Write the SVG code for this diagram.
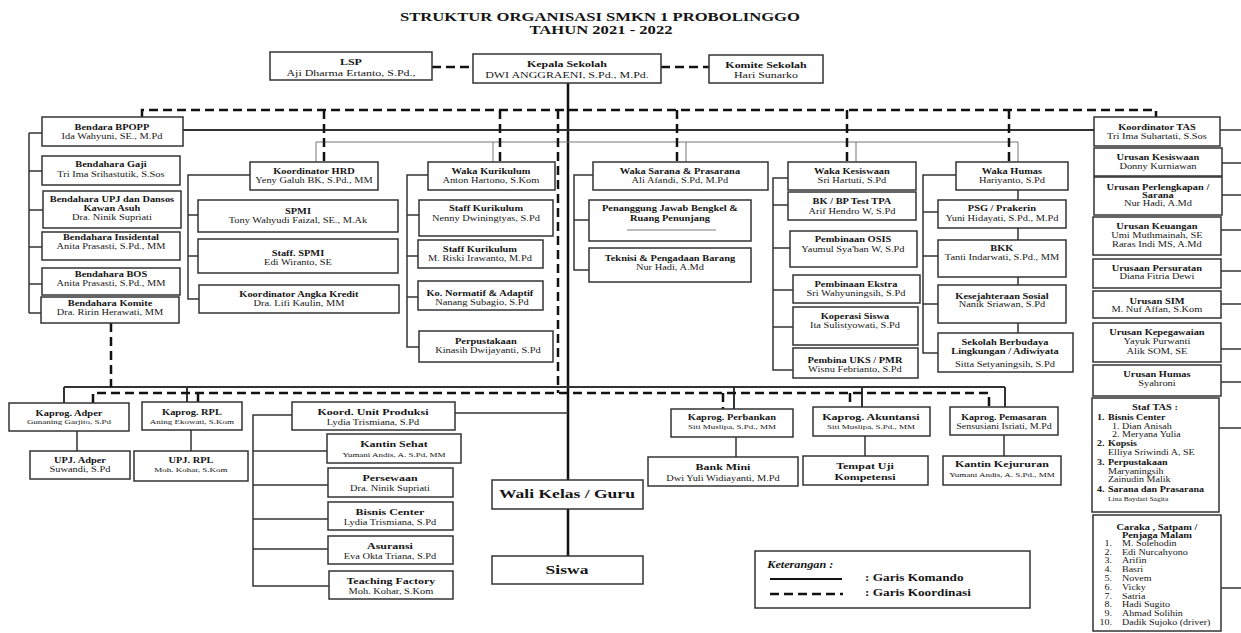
<svg xmlns="http://www.w3.org/2000/svg" width="1241" height="633" viewBox="0 0 1241 633">
<style>
.b{fill:#fff;stroke:#333;stroke-width:1.5}
text{font-family:"Liberation Serif","Times New Roman",serif;fill:#151515;text-anchor:middle;font-size:8px;transform-box:fill-box;transform-origin:center;transform:scaleX(1.3)}
.ti{transform:none}
.h{font-weight:bold}
.T{font-size:9.2px}
.H{font-weight:bold;font-size:9.2px}
.s{font-size:6.9px}
.L{text-anchor:start;font-size:7.7px;transform-origin:left center}
.R{text-anchor:end;font-size:7.7px;transform-origin:right center}
.ln{stroke:#333;stroke-width:1.5;fill:none}
.thin{stroke:#777;stroke-width:1;fill:none}
.main{stroke:#111;stroke-width:2.5;fill:none}
.dash{stroke:#111;stroke-width:2.5;stroke-dasharray:9 5;fill:none}
</style>
<rect width="1241" height="633" fill="#fff"/>
<g id="title">
<text x="600" y="21" class="h ti" style="font-size:12.5px" textLength="400" lengthAdjust="spacingAndGlyphs">STRUKTUR ORGANISASI SMKN 1 PROBOLINGGO</text>
<text x="601" y="33.5" class="h ti" style="font-size:12.5px" textLength="143" lengthAdjust="spacingAndGlyphs">TAHUN 2021 - 2022</text>
</g>
<g id="connectors">
<path class="main" d="M568,83 V480 M568,509 V556"/>
<path class="ln" style="stroke-width:2" d="M183,130 H1094"/>
<path class="thin" d="M316,142 H1018 M316,142 V162 M493,142 V162 M686,142 V162 M856,142 V162 M1018,142 V162"/>
<path class="ln" d="M29,133 V313 M29,133 H42 M29,171 H42 M29,210 H43 M29,247 H42 M29,284 H42 M29,313 H41"/>
<path class="ln" d="M250,175 H188 V299 H199 M188,215 H198 M188,256 H198"/>
<path class="ln" d="M428,175 H407 V347 H419 M407,215 H419 M407,256 H418 M407,297 H418"/>
<path class="ln" d="M593,175 H574 V270 H589 M574,220 H589"/>
<path class="ln" d="M788,178 H773 V370 H793 M773,205 H788 M773,248 H790 M773,290 H793 M773,327 H793"/>
<path class="ln" d="M956,175 H923 V353 H938 M923,212 H938 M923,256 H938 M923,304 H938 M1018,190 V200 M1018,228 V240 M1018,277 V285 M1018,323 V333"/>
<path class="ln" d="M1220,130 H1241 M1222,163 H1241 M1222,195 H1241 M1221,230 H1241 M1221,271 H1241 M1221,304 H1241 M1221,349 H1241 M1221,382 H1241 M1219,428 H1241 M1221,588 H1241"/>
<path class="ln" style="stroke-width:2" d="M64,387 H1005 M64,387 V403 M187,387 V402 M734,387 V409 M862,387 V407 M1005,387 V407"/>
<path class="ln" d="M77,431 V451 M191,430 V451 M736,437 V457 M865,436 V456 M1004,435 V456"/>
<path class="ln" d="M455,413 H568 M292,415 H253 V586 H329 M253,451 H327 M253,485 H328 M253,519 H328 M253,549 H328"/>
<path class="dash" d="M142,117 V110 H1156 V117 M324,110 V162 M500,110 V162 M558,110 V393 M677,110 V162 M847,110 V162 M1009,110 V162"/>
<path class="dash" d="M432,67 H473 M661,67 H709 M111,323 V387"/>
<path class="dash" d="M93,403 V393 H989 V407 M198,393 V402 M723,393 V409 M850,393 V407"/>
</g>
<g id="lsp"><rect class="b" x="270" y="52" width="162" height="28"/><text x="351" y="65.5" class="H">LSP</text><text x="351" y="76" class="T">Aji Dharma Ertanto, S.Pd.,</text></g>
<g id="kepala"><rect class="b" x="473" y="54" width="188" height="29"/><text x="567" y="67.5" class="H">Kepala Sekolah</text><text x="567" y="78" class="T">DWI ANGGRAENI, S.Pd., M.Pd.</text></g>
<g id="komite"><rect class="b" x="709" y="55" width="114" height="28"/><text x="766" y="68.5" class="H">Komite Sekolah</text><text x="766" y="78.5" class="T">Hari Sunarko</text></g>

<g id="bpopp"><rect class="b" x="42" y="117" width="141" height="29"/><text x="112" y="130" class="h">Bendara BPOPP</text><text x="112" y="139.5">Ida Wahyuni, SE., M.Pd</text></g>
<g id="gaji"><rect class="b" x="42" y="156" width="138" height="29"/><text x="111" y="167" class="h">Bendahara Gaji</text><text x="111" y="177">Tri Ima Srihastutik, S.Sos</text></g>
<g id="upj-dansos"><rect class="b" x="43" y="191" width="138" height="37"/><text x="112" y="202" class="h">Bendahara UPJ dan Dansos</text><text x="112" y="211" class="h">Kawan Asuh</text><text x="112" y="220.5">Dra. Ninik Supriati</text></g>
<g id="insidental"><rect class="b" x="42" y="232" width="138" height="28"/><text x="111" y="240" class="h">Bendahara Insidental</text><text x="111" y="249.5">Anita Prasasti, S.Pd., MM</text></g>
<g id="bos"><rect class="b" x="42" y="268" width="138" height="27"/><text x="111" y="277" class="h">Bendahara BOS</text><text x="111" y="286.5">Anita Prasasti, S.Pd., MM</text></g>
<g id="bkomite"><rect class="b" x="41" y="297" width="138" height="26"/><text x="110" y="306" class="h">Bendahara Komite</text><text x="110" y="315.5">Dra. Ririn Herawati, MM</text></g>

<g id="hrd"><rect class="b" x="250" y="162" width="128" height="28"/><text x="314" y="174" class="h">Koordinator HRD</text><text x="314" y="183.5">Yeny Galuh BK, S.Pd., MM</text></g>
<g id="spmi"><rect class="b" x="198" y="200" width="200" height="32"/><text x="298" y="214" class="h">SPMI</text><text x="298" y="223.5">Tony Wahyudi Faizal, SE., M.Ak</text></g>
<g id="staff-spmi"><rect class="b" x="198" y="239" width="200" height="34"/><text x="298" y="256" class="h">Staff. SPMI</text><text x="298" y="265.5">Edi Wiranto, SE</text></g>
<g id="angka-kredit"><rect class="b" x="199" y="285" width="200" height="28"/><text x="299" y="297" class="h">Koordinator Angka Kredit</text><text x="299" y="306.5">Dra. Lifi Kaulin, MM</text></g>

<g id="kurikulum"><rect class="b" x="428" y="162" width="127" height="28"/><text x="491" y="174" class="h">Waka Kurikulum</text><text x="491" y="183.5">Anton Hartono, S.Kom</text></g>
<g id="staff-kur1"><rect class="b" x="419" y="200" width="134" height="36"/><text x="486" y="211" class="h">Staff Kurikulum</text><text x="486" y="221.5">Nenny Dwiningtyas, S.Pd</text></g>
<g id="staff-kur2"><rect class="b" x="418" y="240" width="125" height="28"/><text x="480" y="252" class="h">Staff Kurikulum</text><text x="480" y="261.5">M. Riski Irawanto, M.Pd</text></g>
<g id="normatif"><rect class="b" x="418" y="281" width="125" height="29"/><text x="480" y="296" class="h">Ko. Normatif &amp; Adaptif</text><text x="482" y="305.5">Nanang Subagio, S.Pd</text></g>
<g id="perpustakaan"><rect class="b" x="419" y="331" width="134" height="31"/><text x="486" y="344" class="h">Perpustakaan</text><text x="488" y="353.5">Kinasih Dwijayanti, S.Pd</text></g>

<g id="sarana"><rect class="b" x="593" y="162" width="175" height="28"/><text x="680" y="174" class="h">Waka Sarana &amp; Prasarana</text><text x="680" y="183.5">Ali Afandi, S.Pd, M.Pd</text></g>
<g id="bengkel"><rect class="b" x="589" y="200" width="162" height="41"/><text x="670" y="211" class="h">Penanggung Jawab Bengkel &amp;</text><text x="670" y="221" class="h">Ruang Penunjang</text><path d="M627,230 H716" stroke="#555" stroke-width="0.8"/></g>
<g id="teknisi"><rect class="b" x="589" y="248" width="162" height="34"/><text x="670" y="261" class="h">Teknisi &amp; Pengadaan Barang</text><text x="670" y="270.5">Nur Hadi, A.Md</text></g>

<g id="kesiswaan"><rect class="b" x="788" y="162" width="128" height="28"/><text x="852" y="174" class="h">Waka Kesiswaan</text><text x="852" y="183.5">Sri Hartuti, S.Pd</text></g>
<g id="bk"><rect class="b" x="788" y="192" width="128" height="28"/><text x="852" y="204" class="h">BK / BP Test TPA</text><text x="852" y="214">Arif Hendro W, S.Pd</text></g>
<g id="osis"><rect class="b" x="790" y="231" width="127" height="36"/><text x="853" y="242" class="h">Pembinaan OSIS</text><text x="853" y="252">Yaumul Sya'ban W, S.Pd</text></g>
<g id="ekstra"><rect class="b" x="793" y="275" width="127" height="28"/><text x="856" y="287" class="h">Pembinaan Ekstra</text><text x="856" y="296.5">Sri Wahyuningsih, S.Pd</text></g>
<g id="koperasi"><rect class="b" x="793" y="307" width="125" height="38"/><text x="855" y="319" class="h">Koperasi Siswa</text><text x="855" y="328.5">Ita Sulistyowati, S.Pd</text></g>
<g id="uks"><rect class="b" x="793" y="348" width="125" height="30"/><text x="855" y="363" class="h">Pembina UKS / PMR</text><text x="855" y="372.5">Wisnu Febrianto, S.Pd</text></g>

<g id="humas"><rect class="b" x="956" y="162" width="112" height="28"/><text x="1012" y="174" class="h">Waka Humas</text><text x="1012" y="183.5">Hariyanto, S.Pd</text></g>
<g id="psg"><rect class="b" x="938" y="200" width="128" height="28"/><text x="1002" y="211" class="h">PSG / Prakerin</text><text x="1002" y="221">Yuni Hidayati, S.Pd., M.Pd</text></g>
<g id="bkk"><rect class="b" x="938" y="240" width="128" height="37"/><text x="1002" y="251" class="h">BKK</text><text x="1002" y="260.5">Tanti Indarwati, S.Pd., MM</text></g>
<g id="kesejahteraan"><rect class="b" x="938" y="285" width="128" height="38"/><text x="1002" y="299" class="h">Kesejahteraan Sosial</text><text x="1002" y="307.5">Nanik Sriawan, S.Pd</text></g>
<g id="adiwiyata"><rect class="b" x="938" y="333" width="135" height="39"/><text x="1005" y="345" class="h">Sekolah Berbudaya</text><text x="1005" y="354" class="h">Lingkungan / Adiwiyata</text><text x="1005" y="367.5">Sitta Setyaningsih, S.Pd</text></g>

<g id="koord-tas"><rect class="b" x="1094" y="117" width="126" height="29"/><text x="1157" y="130" class="h">Koordinator TAS</text><text x="1157" y="139.5">Tri Ima Suhartati, S.Sos</text></g>
<g id="u-kesiswaan"><rect class="b" x="1094" y="148" width="128" height="28"/><text x="1158" y="160" class="h">Urusan Kesiswaan</text><text x="1158" y="169.5">Donny Kurniawan</text></g>
<g id="u-perlengkapan"><rect class="b" x="1094" y="177" width="128" height="38"/><text x="1158" y="190" class="h">Urusan Perlengkapan /</text><text x="1158" y="198" class="h">Sarana</text><text x="1158" y="206.5">Nur Hadi, A.Md</text></g>
<g id="u-keuangan"><rect class="b" x="1093" y="217" width="128" height="38"/><text x="1157" y="229" class="h">Urusan Keuangan</text><text x="1157" y="238">Umi Muthmainah, SE</text><text x="1157" y="247">Raras Indi MS, A.Md</text></g>
<g id="u-persuratan"><rect class="b" x="1093" y="259" width="128" height="29"/><text x="1157" y="271" class="h">Urusaan Persuratan</text><text x="1157" y="279.5">Diana Fitria Dewi</text></g>
<g id="u-sim"><rect class="b" x="1093" y="291" width="128" height="27"/><text x="1157" y="304" class="h">Urusan SIM</text><text x="1157" y="312.5">M. Nuf Affan, S.Kom</text></g>
<g id="u-kepegawaian"><rect class="b" x="1093" y="323" width="128" height="39"/><text x="1157" y="335" class="h">Urusan Kepegawaian</text><text x="1157" y="344.5">Yayuk Purwanti</text><text x="1157" y="354">Alik SOM, SE</text></g>
<g id="u-humas"><rect class="b" x="1093" y="365" width="128" height="31"/><text x="1157" y="377" class="h">Urusan Humas</text><text x="1157" y="386.5">Syahroni</text></g>
<g id="staf-tas"><rect class="b" x="1092" y="398" width="127" height="114"/>
<text x="1155" y="410" class="h">Staf TAS :</text>
<text x="1097" y="420" class="L h">1.</text><text x="1108" y="420" class="L h">Bisnis Center</text>
<text x="1112" y="429" class="L">1. Dian Anisah</text>
<text x="1112" y="437.5" class="L">2. Meryana Yulia</text>
<text x="1097" y="446.5" class="L h">2.</text><text x="1108" y="446.5" class="L h">Kopsis</text>
<text x="1108" y="455.5" class="L">Elliya Sriwindi A, SE</text>
<text x="1097" y="465" class="L h">3.</text><text x="1108" y="465" class="L h">Perpustakaan</text>
<text x="1108" y="474" class="L">Maryaningsih</text>
<text x="1108" y="482.5" class="L">Zainudin Malik</text>
<text x="1097" y="492" class="L h">4.</text><text x="1108" y="492" class="L h">Sarana dan Prasarana</text>
<text x="1108" y="501" class="L" style="font-size:5.8px">Lina Baydari Sagita</text>
</g>
<g id="caraka"><rect class="b" x="1093" y="515" width="128" height="116"/>
<text x="1157" y="530" class="h">Caraka , Satpam /</text>
<text x="1157" y="538.5" class="h">Penjaga Malam</text>
<text x="1112" y="546.5" class="R">1.</text><text x="1122" y="546.5" class="L">M. Solehodin</text>
<text x="1112" y="555" class="R">2.</text><text x="1122" y="555" class="L">Edi Nurcahyono</text>
<text x="1112" y="563.5" class="R">3.</text><text x="1122" y="563.5" class="L">Arifin</text>
<text x="1112" y="572" class="R">4.</text><text x="1122" y="572" class="L">Basri</text>
<text x="1112" y="581" class="R">5.</text><text x="1122" y="581" class="L">Novem</text>
<text x="1112" y="590" class="R">6.</text><text x="1122" y="590" class="L">Vicky</text>
<text x="1112" y="599" class="R">7.</text><text x="1122" y="599" class="L">Satria</text>
<text x="1112" y="607.5" class="R">8.</text><text x="1122" y="607.5" class="L">Hadi Sugito</text>
<text x="1112" y="616" class="R">9.</text><text x="1122" y="616" class="L">Ahmad Solihin</text>
<text x="1112" y="625" class="R">10.</text><text x="1122" y="625" class="L">Dadik Sujoko (driver)</text>
</g>

<g id="kaprog-adper"><rect class="b" x="9" y="403" width="120" height="28"/><text x="69" y="416" class="h">Kaprog. Adper</text><text x="69" y="424.5" class="s">Gunaning Garjito, S.Pd</text></g>
<g id="kaprog-rpl"><rect class="b" x="142" y="402" width="100" height="28"/><text x="192" y="415.5" class="h">Kaprog. RPL</text><text x="192" y="424" class="s">Aning Ekowati, S.Kom</text></g>
<g id="upj-adper"><rect class="b" x="30" y="451" width="100" height="28"/><text x="80" y="463" class="h">UPJ. Adper</text><text x="80" y="472.5">Suwandi, S.Pd</text></g>
<g id="upj-rpl"><rect class="b" x="134" y="451" width="114" height="30"/><text x="191" y="463" class="h">UPJ. RPL</text><text x="191" y="472" class="s">Moh. Kohar, S.Kom</text></g>

<g id="unit-produksi"><rect class="b" x="292" y="402" width="163" height="28"/><text x="373" y="415.5" class="H">Koord. Unit Produksi</text><text x="373" y="425.5">Lydia Trismiana, S.Pd</text></g>
<g id="kantin-sehat"><rect class="b" x="327" y="434" width="134" height="29"/><text x="394" y="447.5" class="H">Kantin Sehat</text><text x="394" y="456.5" class="s">Yumani Andis, A. S.Pd, MM</text></g>
<g id="persewaan"><rect class="b" x="328" y="468" width="125" height="29"/><text x="390" y="481.5" class="H">Persewaan</text><text x="390" y="491.5">Dra. Ninik Supriati</text></g>
<g id="bisnis-center"><rect class="b" x="328" y="502" width="125" height="28"/><text x="390" y="515.5" class="H">Bisnis Center</text><text x="390" y="525.5">Lydia Trismiana, S.Pd</text></g>
<g id="asuransi"><rect class="b" x="328" y="536" width="125" height="28"/><text x="390" y="549.5" class="H">Asuransi</text><text x="390" y="559.5">Eva Okta Triana, S.Pd</text></g>
<g id="teaching-factory"><rect class="b" x="329" y="571" width="124" height="28"/><text x="391" y="584.5" class="H">Teaching Factory</text><text x="391" y="594.5">Moh. Kohar, S.Kom</text></g>

<g id="wali-kelas"><rect class="b" x="492" y="480" width="151" height="29"/><text x="567" y="498.5" class="h" style="font-size:13.5px">Wali Kelas / Guru</text></g>
<g id="siswa"><rect class="b" x="492" y="556" width="151" height="28"/><text x="567" y="574.5" class="h" style="font-size:13.5px">Siswa</text></g>

<g id="kaprog-perbankan"><rect class="b" x="671" y="409" width="122" height="28"/><text x="732" y="420" class="h">Kaprog. Perbankan</text><text x="732" y="429" class="s">Siti Muslipa, S.Pd., MM</text></g>
<g id="bank-mini"><rect class="b" x="648" y="457" width="150" height="29"/><text x="723" y="470.5" class="H">Bank Mini</text><text x="723" y="481">Dwi Yuli Widiayanti, M.Pd</text></g>
<g id="kaprog-akuntansi"><rect class="b" x="813" y="407" width="117" height="29"/><text x="871" y="420.5" class="H">Kaprog. Akuntansi</text><text x="871" y="429" class="s">Siti Muslipa, S.Pd., MM</text></g>
<g id="tuk"><rect class="b" x="803" y="456" width="125" height="29"/><text x="865" y="469.5" class="H">Tempat Uji</text><text x="865" y="480" class="H">Kompetensi</text></g>
<g id="kaprog-pemasaran"><rect class="b" x="950" y="407" width="108" height="28"/><text x="1004" y="420" class="h" style="font-size:7.7px">Kaprog. Pemasaran</text><text x="1004" y="429" style="font-size:7.7px">Sensusiani Isriati, M.Pd</text></g>
<g id="kantin-kejururan"><rect class="b" x="943" y="456" width="118" height="29"/><text x="1002" y="467.5" class="H">Kantin Kejururan</text><text x="1002" y="477" class="s">Yumani Andis, A. S.Pd., MM</text></g>

<g id="legend"><rect class="b" x="755" y="551" width="275" height="57"/>
<text x="767" y="568.5" class="h L" style="font-size:9.4px;font-style:italic">Keterangan :</text>
<path class="ln" style="stroke:#111;stroke-width:2" d="M770,579 H842"/>
<path class="dash" d="M770,594 H843"/>
<text x="865" y="581" class="h L" style="font-size:10.2px">: Garis Komando</text>
<text x="865" y="596" class="h L" style="font-size:10.2px">: Garis Koordinasi</text>
</g>
</svg>
